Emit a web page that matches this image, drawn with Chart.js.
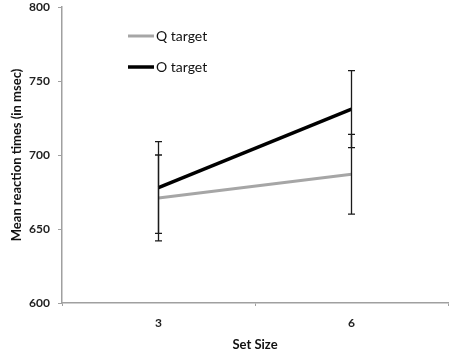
<!DOCTYPE html>
<html>
<head>
<meta charset="utf-8">
<script src="https://cdn.jsdelivr.net/npm/chart.js@4"></script>
<style>
  html, body { margin: 0; padding: 0; background: #fff; }
  #wrap { width: 454px; height: 353px; }
</style>
</head>
<body>
<div id="wrap"><canvas id="c" width="454" height="353"></canvas></div>
<script>
// データ
var setSizes = ['3', '6'];
var qTarget = [671, 687];
var qError = [29, 27];
var oTarget = [678, 731];
var oError = [31, 26];
var legendLabels = ['Q target', 'O target'];

// エラーバー描画
var errorBars = {
    id: 'errorBars',
    afterDatasetsDraw: function(chart) {
        var c = chart.ctx;
        var xs = chart.scales.x, ys = chart.scales.y;
        c.save();
        c.strokeStyle = '#1a1a1a';
        c.lineWidth = 1.3;
        chart.data.datasets.forEach(function(ds) {
            ds.data.forEach(function(v, i) {
                var x = xs.getPixelForValue(i);
                var t = ys.getPixelForValue(v + ds.errors[i]);
                var b = ys.getPixelForValue(v - ds.errors[i]);
                c.beginPath();
                c.moveTo(x, t); c.lineTo(x, b);
                c.moveTo(x - 3.5, t); c.lineTo(x + 3.5, t);
                c.moveTo(x - 3.5, b); c.lineTo(x + 3.5, b);
                c.stroke();
            });
        });
        c.restore();
    }
};

// 凡例（プロット内左上）
var innerLegend = {
    id: 'innerLegend',
    afterDraw: function(chart) {
        var c = chart.ctx;
        c.save();
        c.font = '14px Lato';
        c.textBaseline = 'middle';
        c.fillStyle = '#111';
        chart.data.datasets.forEach(function(ds, i) {
            var y = 36 + i * 31;
            c.strokeStyle = ds.borderColor;
            c.lineWidth = ds.borderWidth;
            c.beginPath();
            c.moveTo(128, y); c.lineTo(154, y);
            c.stroke();
            c.fillText(ds.label, 156, y);
        });
        c.restore();
    }
};

var ctx = document.getElementById('c').getContext('2d');
var chart = new Chart(ctx, {
    type: 'line',
    data: {
        labels: setSizes,
        datasets: [{
            label: legendLabels[0],
            data: qTarget,
            errors: qError,
            borderColor: '#a6a6a6',
            borderWidth: 3,
            pointRadius: 0
        }, {
            label: legendLabels[1],
            data: oTarget,
            errors: oError,
            borderColor: '#000000',
            borderWidth: 3.5,
            pointRadius: 0
        }]
    },
    options: {
        responsive: false,
        animation: false,
        layout: {
            padding: { left: 9, right: 6, top: 0, bottom: 0 }
        },
        plugins: {
            legend: { display: false },
            tooltip: { enabled: false }
        },
        scales: {
            x: {
                offset: true,
                grid: {
                    offset: true,
                    drawOnChartArea: false,
                    tickLength: 3,
                    color: '#a0a0a0'
                },
                border: { color: '#a0a0a0', width: 1.5 },
                ticks: {
                    color: '#222',
                    font: { family: 'Lato', size: 12, weight: 'bold' },
                    padding: 10
                },
                title: {
                    display: true,
                    text: 'Set Size',
                    color: '#111',
                    font: { family: 'Lato', size: 13, weight: 'bold' },
                    padding: { top: 2, bottom: 0 }
                },
                afterFit: function(s) { s.height = 50; }
            },
            y: {
                min: 600,
                max: 800,
                ticks: {
                    stepSize: 50,
                    color: '#222',
                    font: { family: 'Lato', size: 12, weight: 'bold' },
                    padding: 8
                },
                grid: {
                    drawOnChartArea: false,
                    tickLength: 4,
                    color: '#a0a0a0'
                },
                border: { color: '#a0a0a0', width: 1.5 },
                title: {
                    display: true,
                    text: 'Mean reaction times (in msec)',
                    color: '#111',
                    font: { family: 'Lato', size: 13, weight: 'bold' },
                    padding: { top: 0, bottom: 2 }
                },
                afterFit: function(s) { s.width = 53; s.paddingTop = 7; }
            }
        }
    },
    plugins: [errorBars, innerLegend]
});
</script>
</body>
</html>
